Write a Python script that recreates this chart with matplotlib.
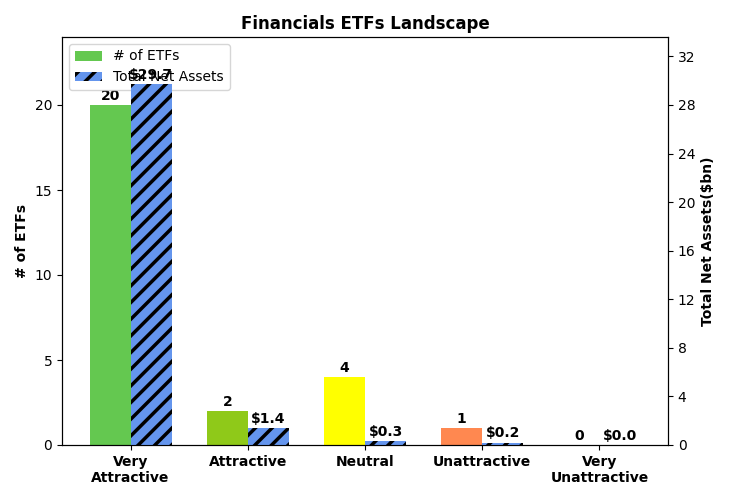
import matplotlib
matplotlib.use("Agg")
import matplotlib.pyplot as plt
import numpy as np

categories = ["Very\nAttractive", "Attractive", "Neutral", "Unattractive", "Very\nUnattractive"]
num_etfs = [20, 2, 4, 1, 0]
net_assets = [29.7, 1.4, 0.3, 0.2, 0.0]
etf_colors = ["#64c850", "#8fc919", "#ffff00", "#ff8850", "#ff3030"]

plt.rcParams['hatch.linewidth'] = 2.5

fig, ax = plt.subplots(figsize=(7.3, 5), dpi=100)
fig.subplots_adjust(left=0.085, right=0.915, top=0.926, bottom=0.11)
ax2 = ax.twinx()

x = np.arange(len(categories))
w = 0.35
b1 = ax.bar(x - w / 2, num_etfs, w, color=etf_colors, label="# of ETFs")
b2 = ax2.bar(x + w / 2, net_assets, w, color="#6495ed", hatch="//", edgecolor="black",
             linewidth=0, label="Total Net Assets")

ax.set_ylim(0, 24)
ax2.set_ylim(0, 33.6)
ax2.set_yticks(np.arange(0, 33, 4))
ax.set_xticks(x)
ax.set_xticklabels(categories, fontweight="bold")
ax.set_ylabel("# of ETFs", fontweight="bold")
ax2.set_ylabel("Total Net Assets($bn)", fontweight="bold")
ax.set_title("Financials ETFs Landscape", fontweight="bold", fontsize=12)

for xi, v in zip(x, num_etfs):
    ax.annotate(f"{v}", (xi - w / 2, v), xytext=(0, 1.5), textcoords="offset points",
                ha="center", va="bottom", fontweight="bold")
for xi, v in zip(x, net_assets):
    ax2.annotate(f"${v:.1f}", (xi + w / 2, v), xytext=(0, 1.5), textcoords="offset points",
                 ha="center", va="bottom", fontweight="bold")

ax.legend([b1, b2], ["# of ETFs", "Total Net Assets"], loc="upper left")

fig.savefig("out.png", dpi=100)
